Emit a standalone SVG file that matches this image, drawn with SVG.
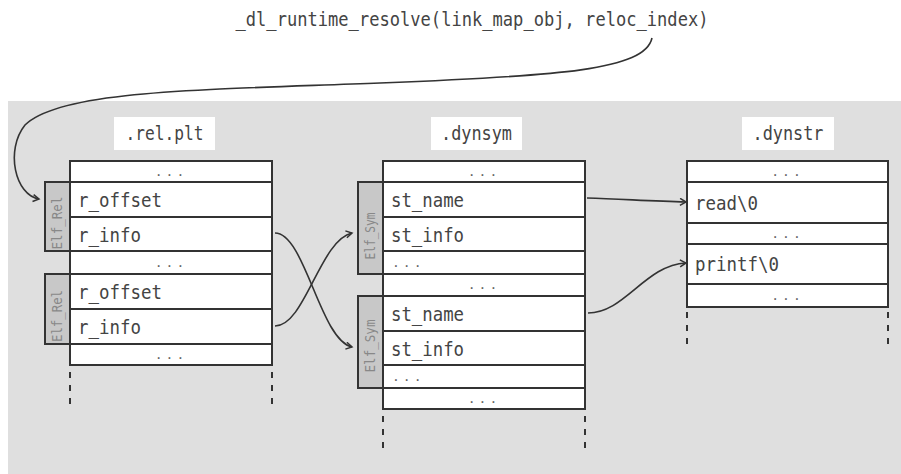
<svg xmlns="http://www.w3.org/2000/svg" width="901" height="474" viewBox="0 0 901 474">
<defs>
<marker id="arr" markerWidth="10" markerHeight="10" refX="7" refY="4" orient="auto" markerUnits="userSpaceOnUse">
<path d="M1,0.5 L7,4 L1,7.5" fill="none" stroke="#333" stroke-width="1.5"/>
</marker>
<style>
.cell{fill:#fff;stroke:#333;stroke-width:2}
.tab{fill:#c8c8c8;stroke:#333;stroke-width:2}
.lbl{fill:#fff}
.t{font-family:"DejaVu Sans Mono","Liberation Mono",monospace;font-size:20px;fill:#444}
.h{font-family:"DejaVu Sans Mono","Liberation Mono",monospace;font-size:19px;fill:#444;text-anchor:middle}
.d{font-family:"DejaVu Sans Mono","Liberation Mono",monospace;font-size:13px;fill:#666;letter-spacing:3px}
.dc{text-anchor:middle}
.tt{font-family:"DejaVu Sans Mono","Liberation Mono",monospace;font-size:13.5px;fill:#888;text-anchor:middle}
.dash{stroke:#333;stroke-width:2;stroke-dasharray:6,7;fill:none}
.con{fill:none;stroke:#333;stroke-width:1.6;marker-end:url(#arr)}
</style>
</defs>
<rect x="8" y="101" width="893" height="373" fill="#dfdfdf"/>
<text x="472" y="26" class="h" textLength="473" lengthAdjust="spacingAndGlyphs">_dl_runtime_resolve(link_map_obj, reloc_index)</text>

<g id="relplt">
<rect x="114" y="117" width="101" height="33" class="lbl"/>
<text x="164.5" y="140" class="h" textLength="78" lengthAdjust="spacingAndGlyphs">.rel.plt</text>
<rect x="70" y="161" width="202" height="21" class="cell"/>
<text x="171" y="176" class="d dc">...</text>
<rect x="70" y="182" width="202" height="35" class="cell"/>
<text x="78" y="207" class="t" textLength="84" lengthAdjust="spacingAndGlyphs">r_offset</text>
<rect x="70" y="217" width="202" height="34" class="cell"/>
<text x="78" y="242" class="t" textLength="63" lengthAdjust="spacingAndGlyphs">r_info</text>
<rect x="70" y="251" width="202" height="23" class="cell"/>
<text x="171" y="267" class="d dc">...</text>
<rect x="70" y="274" width="202" height="35" class="cell"/>
<text x="78" y="299" class="t" textLength="84" lengthAdjust="spacingAndGlyphs">r_offset</text>
<rect x="70" y="309" width="202" height="35" class="cell"/>
<text x="78" y="334" class="t" textLength="63" lengthAdjust="spacingAndGlyphs">r_info</text>
<rect x="70" y="344" width="202" height="21" class="cell"/>
<text x="171" y="359" class="d dc">...</text>
<path d="M70,372 V406 M272,372 V406" class="dash"/>
</g>
<g id="elfrel1">
<rect x="45" y="182" width="25" height="69" class="tab"/>
<text class="tt" transform="translate(62,223) rotate(-90)" textLength="53" lengthAdjust="spacingAndGlyphs">Elf_Rel</text>
</g>
<g id="elfrel2">
<rect x="45" y="274" width="25" height="70" class="tab"/>
<text class="tt" transform="translate(62,316) rotate(-90)" textLength="52" lengthAdjust="spacingAndGlyphs">Elf_Rel</text>
</g>

<g id="dynsym">
<rect x="431" y="117" width="91" height="33" class="lbl"/>
<text x="476.5" y="140" class="h" textLength="71" lengthAdjust="spacingAndGlyphs">.dynsym</text>
<rect x="383" y="161" width="202" height="21" class="cell"/>
<text x="484" y="176" class="d dc">...</text>
<rect x="383" y="182" width="202" height="35" class="cell"/>
<text x="391" y="207" class="t" textLength="73" lengthAdjust="spacingAndGlyphs">st_name</text>
<rect x="383" y="217" width="202" height="34" class="cell"/>
<text x="391" y="242" class="t" textLength="73" lengthAdjust="spacingAndGlyphs">st_info</text>
<rect x="383" y="251" width="202" height="23" class="cell"/>
<text x="392" y="267" class="d">...</text>
<rect x="383" y="274" width="202" height="22" class="cell"/>
<text x="484" y="289" class="d dc">...</text>
<rect x="383" y="296" width="202" height="35" class="cell"/>
<text x="391" y="321" class="t" textLength="73" lengthAdjust="spacingAndGlyphs">st_name</text>
<rect x="383" y="331" width="202" height="34" class="cell"/>
<text x="391" y="356" class="t" textLength="73" lengthAdjust="spacingAndGlyphs">st_info</text>
<rect x="383" y="365" width="202" height="23" class="cell"/>
<text x="392" y="381" class="d">...</text>
<rect x="383" y="388" width="202" height="21" class="cell"/>
<text x="484" y="403" class="d dc">...</text>
<path d="M383,416 V450 M585,416 V450" class="dash"/>
</g>
<g id="elfsym1">
<rect x="358" y="182" width="25" height="92" class="tab"/>
<text class="tt" transform="translate(375,236) rotate(-90)" textLength="47" lengthAdjust="spacingAndGlyphs">Elf_Sym</text>
</g>
<g id="elfsym2">
<rect x="358" y="296" width="25" height="92" class="tab"/>
<text class="tt" transform="translate(375,346) rotate(-90)" textLength="53" lengthAdjust="spacingAndGlyphs">Elf_Sym</text>
</g>

<g id="dynstr">
<rect x="742" y="117" width="92" height="33" class="lbl"/>
<text x="788" y="140" class="h" textLength="71" lengthAdjust="spacingAndGlyphs">.dynstr</text>
<rect x="687" y="161" width="201" height="21" class="cell"/>
<text x="787.5" y="176" class="d dc">...</text>
<rect x="687" y="182" width="201" height="41" class="cell"/>
<text x="695" y="210" class="t" textLength="63" lengthAdjust="spacingAndGlyphs">read\0</text>
<rect x="687" y="223" width="201" height="21" class="cell"/>
<text x="787.5" y="238" class="d dc">...</text>
<rect x="687" y="244" width="201" height="40" class="cell"/>
<text x="695" y="271" class="t" textLength="84" lengthAdjust="spacingAndGlyphs">printf\0</text>
<rect x="687" y="284" width="201" height="23" class="cell"/>
<text x="787.5" y="300" class="d dc">...</text>
<path d="M687,312 V347 M888,312 V347" class="dash"/>
</g>

<g id="connectors">
<path class="con" d="M652,38 C645,70 560,76 380,83 C200,90 60,90 25,125 C5,150 15,195 39,199"/>
<path class="con" d="M275,233 C305,233 320,340 352,347"/>
<path class="con" d="M275,326 C305,326 320,240 352,233"/>
<path class="con" d="M587,198 C620,199 650,201 686,202"/>
<path class="con" d="M588,313 C625,313 645,265 686,263"/>
</g>
</svg>
